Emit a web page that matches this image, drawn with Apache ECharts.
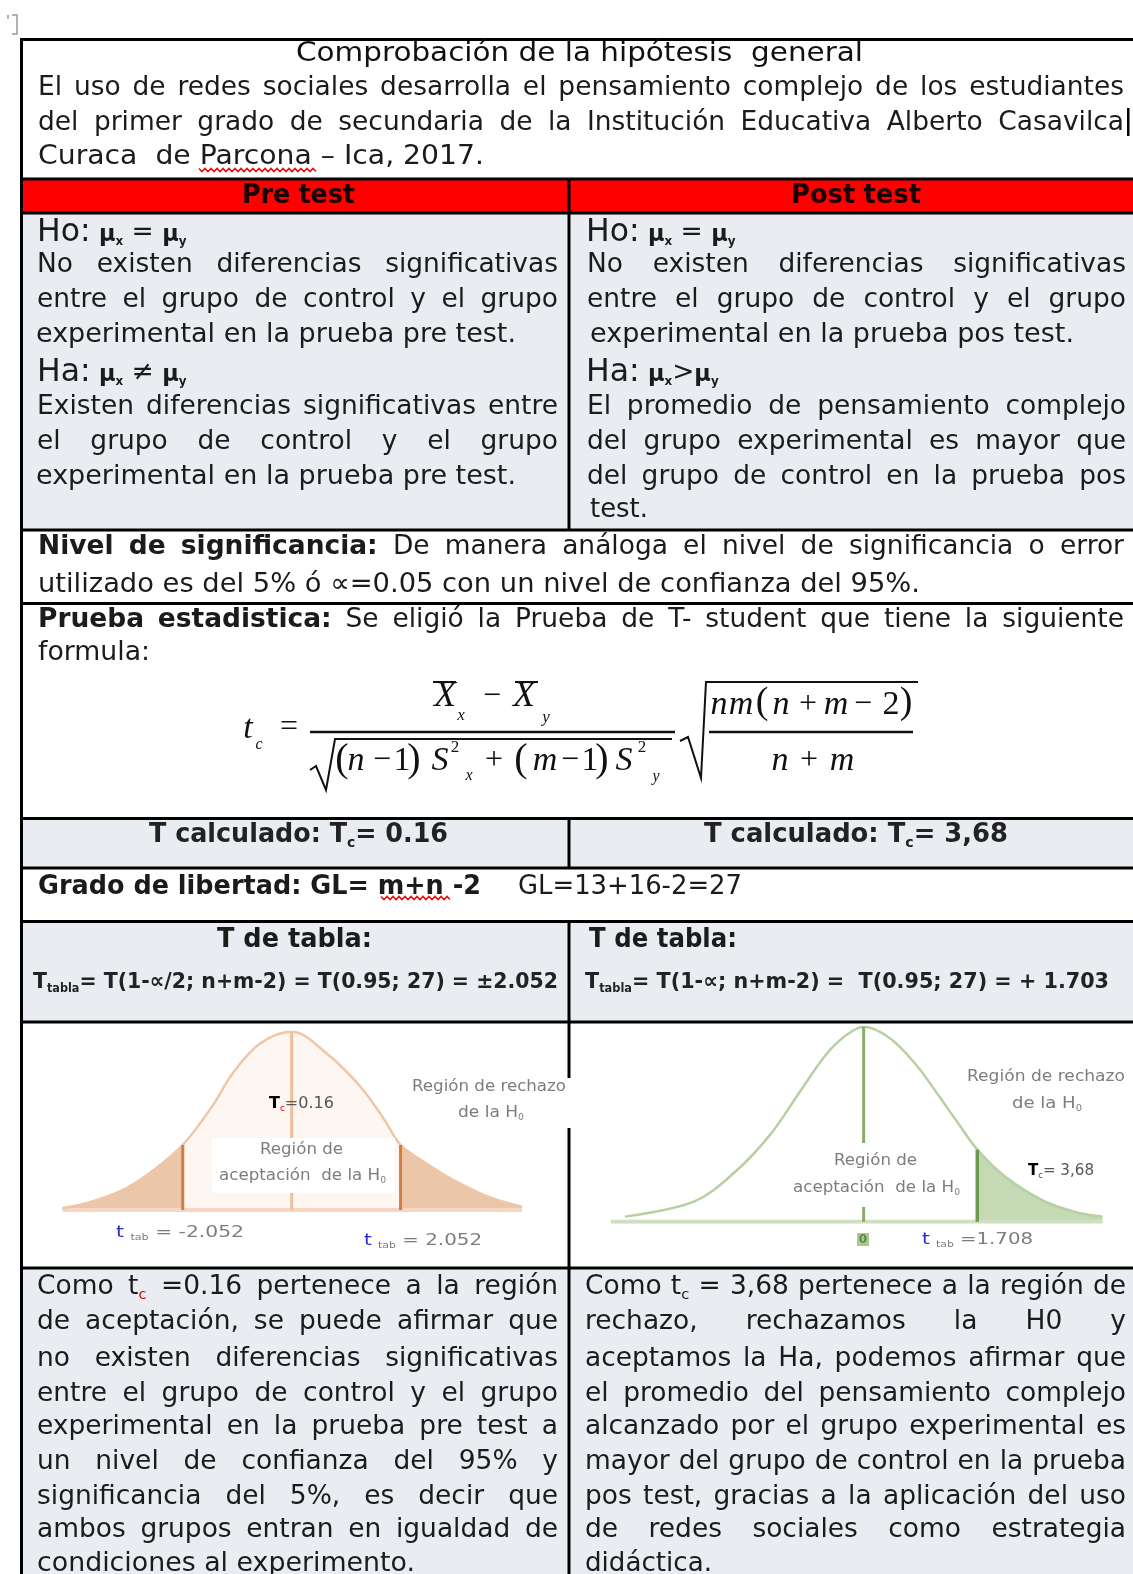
<!DOCTYPE html>
<html><head><meta charset="utf-8">
<script src="https://cdn.jsdelivr.net/npm/echarts@6/dist/echarts.min.js"></script>
<style>html,body{margin:0;padding:0;background:#fff}#c{width:1133px;height:1574px}</style>
</head><body><div id="c"></div>
<script>
// ================= DATA =================
// Pre test distribution (t units, relative height)
const PRE_X = [-4.32,-3.77,-3.12,-2.60,-2.052,-1.50,-1.11,-0.59,0,0.65,1.30,1.75,2.052,2.53,3.05,3.70,4.34];
const PRE_Y = [1.0,4.7,12.2,22.4,36.5,58.0,76.7,93.5,100,88,69,50.5,36.5,26.2,16.8,7.5,1.9];
const PRE_CRIT = 2.052;
// Post test distribution
const POST_X = [-3.59,-2.55,-1.93,-1.41,-0.99,-0.57,-0.26,0,0.40,0.80,1.10,1.41,1.708,2.13,2.66,3.18,3.59];
const POST_Y = [2.6,10.3,25.6,44.4,65,85.5,95.7,100,94,80,66,51,37,23,11.5,5,2.6];
const POST_CRIT = 1.708;

// text content
const TITLE = 'Comprobación de la hipótesis  general';
const HYP_GENERAL = [
  'El uso de redes sociales desarrolla el pensamiento complejo de los estudiantes',
  'del primer grado de secundaria de la Institución Educativa Alberto Casavilca',
  'Curaca  de Parcona – Ica, 2017.'
];
const HEADERS = ['{b|Pre} {b|test}', '{b|Post} {b|test}'];
const HYP_PRE = [
  '{H|Ho:} {m|µ}{ms|x} = {m|µ}{ms|y}',
  'No existen diferencias significativas',
  'entre el grupo de control y el grupo',
  'experimental en la prueba pre test.',
  '{H|Ha:} {m|µ}{ms|x} ≠ {m|µ}{ms|y}',
  'Existen diferencias significativas entre',
  'el grupo de control y el grupo',
  'experimental en la prueba pre test.'
];
const HYP_POST = [
  '{H|Ho:} {m|µ}{ms|x} = {m|µ}{ms|y}',
  'No existen diferencias significativas',
  'entre el grupo de control y el grupo',
  'experimental en la prueba pos test.',
  '{H|Ha:} {m|µ}{ms|x}>{m|µ}{ms|y}',
  'El promedio de pensamiento complejo',
  'del grupo experimental es mayor que',
  'del grupo de control en la prueba pos',
  'test.'
];
const NIVEL = [
  '{b|Nivel} {b|de} {b|significancia:} De manera análoga el nivel de significancia o error',
  'utilizado es del 5% ó ∝=0.05 con un nivel de confianza del 95%.'
];
const PRUEBA = [
  '{b|Prueba} {b|estadistica:} Se eligió la Prueba de T- student que tiene la siguiente',
  'formula:'
];
const TCALC = ['T calculado: T{bs|c}= 0.16', 'T calculado: T{bs|c}= 3,68'];
const GRADO = ['Grado de libertad: GL= m+n -2', 'GL=13+16-2=27'];
const TTABLA_HEAD = 'T de tabla:';
const TTABLA = ['T{s|tabla}= T(1-∝/2; n+m-2) = T(0.95; 27) = ±2.052', 'T{s|tabla}= T(1-∝; n+m-2) =  T(0.95; 27) = + 1.703'];
const CONCL_PRE = [
  'Como t{rs|c} =0.16 pertenece a la región',
  'de aceptación, se puede afirmar  que',
  'no existen diferencias significativas',
  'entre el grupo de control y el grupo',
  'experimental en la prueba pre test a',
  'un nivel de confianza del 95% y',
  'significancia del 5%, es decir que',
  'ambos grupos entran en igualdad de',
  'condiciones al experimento.'
];
const CONCL_POST = [
  'Como t{s|c} = 3,68 pertenece a la región de',
  'rechazo, rechazamos la H0 y',
  'aceptamos la Ha, podemos afirmar que',
  'el promedio del pensamiento complejo',
  'alcanzado por el grupo experimental es',
  'mayor del grupo de control en la prueba',
  'pos test, gracias a la aplicación del uso',
  'de redes sociales como estrategia',
  'didáctica.'
];

// ================= HELPERS =================
const FONT = '"DejaVu Sans"';
const SX = 0.98;
const INK = '#1b1b1b';
const SEG = {
  n:{k:1}, b:{k:1,w:'bold'}, s:{k:0.55,dy:0.3}, bs:{k:0.55,w:'bold',dy:0.3},
  H:{k:1.19,dy:-0.02}, m:{k:0.85,w:'bold',dy:0.08}, ms:{k:0.45,w:'bold',dy:0.32},
  k:{k:1,w:'bold',c:'#000'}, rs:{k:0.55,dy:0.3,c:'#e00000'}, bl:{k:1,c:'#2a2ad0'}
};
const mctx = document.createElement('canvas').getContext('2d');
function parseWord(w){
  const out=[]; const re=/\{(\w+)\|([^}]*)\}|([^{]+)/g; let m;
  while((m=re.exec(w))!==null){ if(m[3]!==undefined) out.push({st:'n',t:m[3]}); else out.push({st:m[1],t:m[2]}); }
  return out;
}
function fontOf(seg,size,weight){ const s=SEG[seg.st]||SEG.n; return {fs:size*s.k, fw:s.w||weight, dy:(s.dy||0)*size, c:s.c}; }
function segW(seg,size,weight){ const f=fontOf(seg,size,weight); mctx.font=`${f.fw} ${f.fs}px ${FONT}`; return mctx.measureText(seg.t).width; }
function wordW(w,size,weight){ return parseWord(w).reduce((a,s)=>a+segW(s,size,weight),0); }
function putWord(els,w,x,y,size,weight,color,sx){
  let cx=x;
  parseWord(w).forEach(seg=>{
    const f=fontOf(seg,size,weight);
    els.push({type:'text',x:cx,y:y+f.dy,scaleX:sx,z:100,silent:true,
      style:{text:seg.t,fontFamily:FONT,fontSize:f.fs,fontWeight:f.fw,fill:f.c||color,align:'left',verticalAlign:'middle'}});
    cx+=segW(seg,size,weight)*sx;
  });
}
function putLine(els,o){
  const size=o.size||27, weight=o.weight||'normal', color=o.color||INK;
  mctx.font=`${weight} ${size}px ${FONT}`; const sp=mctx.measureText(' ').width;
  if(o.mode==='justify'){
    const words=o.t.split(' ').filter(Boolean);
    const ws=words.map(w=>wordW(w,size,weight)); const sum=ws.reduce((a,b)=>a+b,0);
    const W=o.x2-o.x1; let sx=SX;
    if((sum+sp*(words.length-1))*sx>W) sx=W/(sum+sp*(words.length-1));
    const gap=(W-sum*sx)/(words.length-1);
    let x=o.x1; words.forEach((w,i)=>{putWord(els,w,x,o.y,size,weight,color,sx); x+=ws[i]*sx+gap;});
  } else {
    const words=o.t.split(' ');
    const ws=words.map(w=>wordW(w,size,weight)); const nat=ws.reduce((a,b)=>a+b,0)+sp*(words.length-1);
    let sx=o.sx||SX, x=o.x1;
    if(o.mode==='fit') sx=(o.x2-o.x1)/nat;
    words.forEach((w,i)=>{putWord(els,w,x,o.y,size,weight,color,sx); x+=(ws[i]+sp)*sx;});
  }
}
function boldAll(s){ return s.split(' ').map(w=> w===''? '' : (w.includes('{')? w.replace(/^([^{]+)/,'{b|$1}').replace(/\}([^{}]+)$/,'}{b|$1}') : '{b|'+w+'}')).join(' '); }
function rect(els,x,y,w,h,fill,z){ els.push({type:'rect',z:z||1,silent:true,shape:{x,y,width:w,height:h},style:{fill}}); }
function hline(els,x1,x2,y,w,c){ els.push({type:'line',z:90,silent:true,shape:{x1,y1:y,x2,y2:y},style:{stroke:c||'#000',lineWidth:w||3}}); }
function vline(els,x,y1,y2,w,c){ els.push({type:'line',z:90,silent:true,shape:{x1:x,y1,x2:x,y2},style:{stroke:c||'#000',lineWidth:w||3}}); }
function poly(els,pts,c,w,z){ els.push({type:'polyline',z:z||95,silent:true,shape:{points:pts},style:{stroke:c,lineWidth:w,fill:null}}); }
function squiggle(els,x1,x2,y){ const p=[]; let up=true; for(let x=x1;x<=x2;x+=3){p.push([x,up?y-1.5:y+1.5]); up=!up;} poly(els,p,'#e81010',1.6,96); }
function glyph(els,t,cx,cy,size,italic){
  els.push({type:'text',x:cx,y:cy,z:100,silent:true,style:{text:t,fontFamily:'"Liberation Serif"',fontSize:size,fontStyle:italic?'italic':'normal',fill:'#111',align:'center',verticalAlign:'middle'}});
}

// ================= GRAPHIC LAYOUT =================
const G = [];
const GRAY = '#e9ecf1';
const L1=37, L2=558, R1=587, R2=1126;
// backgrounds
rect(G,22,180,1111,33,'#ff0000');
rect(G,22,213,1111,317,GRAY);
rect(G,22,818,1111,50,GRAY);
rect(G,22,921,1111,101,GRAY);
rect(G,22,1268,1111,306,GRAY);

// title row
putLine(G,{t:TITLE,mode:'fit',x1:296,x2:863,y:54,color:'#111'});
putLine(G,{t:HYP_GENERAL[0],mode:'justify',x1:38,x2:1124,y:88});
putLine(G,{t:HYP_GENERAL[1],mode:'justify',x1:38,x2:1124,y:123});
putLine(G,{t:HYP_GENERAL[2],mode:'fit',x1:38,x2:484,y:157});
squiggle(G,199,318,170);
rect(G,1127,108,2.5,28,'#000',100);

// headers
putLine(G,{t:HEADERS[0],mode:'fit',x1:242,x2:355,y:196,color:'#1a0000'});
putLine(G,{t:HEADERS[1],mode:'fit',x1:791,x2:921,y:196,color:'#1a0000'});

// hypotheses
const HY_L = [233,265,300,335,373,407,442,477];
const HY_R = [233,265,300,335,373,407,442,477,510];
const J_PRE = ['left','justify','justify','fitA','left','justify','justify','fitA'];
HYP_PRE.forEach((t,i)=>{
  const m=J_PRE[i];
  if(m==='fitA') putLine(G,{t,mode:'fit',x1:36,x2:516,y:HY_L[i]});
  else putLine(G,{t,mode:m,x1:L1,x2:L2,y:HY_L[i]});
});
const J_POST = ['left','justify','justify','fitB','left','justify','justify','justify','fitC'];
HYP_POST.forEach((t,i)=>{
  const m=J_POST[i];
  if(m==='fitB') putLine(G,{t,mode:'fit',x1:590,x2:1074,y:HY_R[i]});
  else if(m==='fitC') putLine(G,{t,mode:'fit',x1:590,x2:648,y:HY_R[i]});
  else putLine(G,{t,mode:m,x1:m==='left'?586:R1,x2:R2,y:HY_R[i]});
});

// nivel & prueba
putLine(G,{t:NIVEL[0],mode:'justify',x1:38,x2:1124,y:547});
putLine(G,{t:NIVEL[1],mode:'fit',x1:38,x2:920,y:585});
putLine(G,{t:PRUEBA[0],mode:'justify',x1:38,x2:1124,y:620});
putLine(G,{t:PRUEBA[1],mode:'fit',x1:38,x2:150,y:653});

// formula
glyph(G,'t',248,729,34,true); glyph(G,'c',259,745,16,true);
glyph(G,'=',289,728,32,false);
glyph(G,'X',445,697,36,true); hline(G,433,456,682,2,'#111'); glyph(G,'x',461,716,17,true);
glyph(G,'−',492,697,32,false);
glyph(G,'X',524,697,36,true); hline(G,515,538,682,2,'#111'); glyph(G,'y',546,718,17,true);
hline(G,310,675,732,2.5,'#111');
poly(G,[[310,770],[316,766],[326,790],[335,739],[672,739]],'#111',2,95);
[['(',342,760,40,false],['n',356,761,34,true],['−',382,761,32,false],['1',402,761,34,false],[')',414,760,40,false],
 ['S',440,761,34,true],['2',455,748,17,false],['x',469,776,16,true],['+',494,761,32,false],
 ['(',521,760,40,false],['m',545,761,34,true],['−',570,761,32,false],['1',590,761,34,false],[')',602,760,40,false],
 ['S',624,761,34,true],['2',642,748,17,false],['y',656,777,16,true]].forEach(g=>glyph(G,...g));
poly(G,[[680,741],[688,737],[701,778],[706,682],[918,682]],'#111',2,95);
hline(G,709,913,732,2.5,'#111');
[['n',719,705,34,true],['m',741,705,34,true],['(',762,703,38,false],['n',781,705,34,true],['+',808,705,32,false],
 ['m',836,705,34,true],['−',863,705,32,false],['2',891,705,34,false],['(',0,0,0,false]].slice(0,8).forEach(g=>glyph(G,...g));
[[')',906,703,38,false],['n',780,761,34,true],['+',809,761,32,false],['m',842,761,34,true]].forEach(g=>glyph(G,...g));

// T calculado
putLine(G,{t:boldAll(TCALC[0]),mode:'fit',x1:149,x2:448,y:835,weight:'bold',color:'#222'});
putLine(G,{t:boldAll(TCALC[1]),mode:'fit',x1:704,x2:1008,y:835,weight:'bold',color:'#222'});
// grado
putLine(G,{t:GRADO[0],mode:'fit',x1:38,x2:481,y:887,weight:'bold'});
putLine(G,{t:GRADO[1],mode:'fit',x1:518,x2:742,y:887});
squiggle(G,381,450,898);
// T tabla
putLine(G,{t:TTABLA_HEAD,mode:'fit',x1:217,x2:372,y:940,weight:'bold'});
putLine(G,{t:TTABLA_HEAD,mode:'fit',x1:589,x2:737,y:940,weight:'bold'});
putLine(G,{t:TTABLA[0],mode:'fit',x1:33,x2:558,y:982,size:22,weight:'bold',color:'#222'});
putLine(G,{t:TTABLA[1],mode:'fit',x1:585,x2:1109,y:982,size:22,weight:'bold',color:'#222'});

// chart annotation boxes & labels
rect(G,212,1138,183,55,'#ffffff',50);
rect(G,791,1143,169,64,'#ffffff',50);
const LG = '#7d7d7d';
putLine(G,{t:'Región de rechazo',mode:'fit',x1:412,x2:566,y:1087,size:15,color:LG});
putLine(G,{t:'de la H{s|0}',mode:'fit',x1:458,x2:524,y:1113,size:15,color:LG});
putLine(G,{t:'Región de',mode:'fit',x1:260,x2:343,y:1150,size:15,color:LG});
putLine(G,{t:'aceptación  de la H{s|0}',mode:'fit',x1:219,x2:386,y:1176,size:15,color:LG});
putLine(G,{t:'{k|T}{rs|c}=0.16',mode:'fit',x1:269,x2:334,y:1104,size:15,color:'#555'});
putLine(G,{t:'{bl|t} {s|tab} = -2.052',mode:'fit',x1:116,x2:244,y:1233,size:16,color:LG});
putLine(G,{t:'{bl|t} {s|tab} = 2.052',mode:'fit',x1:364,x2:482,y:1241,size:16,color:LG});
putLine(G,{t:'Región de rechazo',mode:'fit',x1:967,x2:1125,y:1077,size:15,color:LG});
putLine(G,{t:'de la H{s|0}',mode:'fit',x1:1012,x2:1082,y:1104,size:15,color:LG});
putLine(G,{t:'Región de',mode:'fit',x1:834,x2:917,y:1161,size:15,color:LG});
putLine(G,{t:'aceptación  de la H{s|0}',mode:'fit',x1:793,x2:960,y:1188,size:15,color:LG});
putLine(G,{t:'{k|T}{rs|c}= 3,68',mode:'fit',x1:1028,x2:1094,y:1171,size:15,color:'#555'});
putLine(G,{t:'{bl|t} {s|tab} =1.708',mode:'fit',x1:922,x2:1033,y:1240,size:16,color:LG});
rect(G,857,1233,12,13,'#a9c994',99);
G.push({type:'text',x:863,y:1240,z:100,silent:true,style:{text:'0',fontFamily:FONT,fontSize:12,fontWeight:'bold',fill:'#5e8c45',align:'center',verticalAlign:'middle'}});

// conclusions
const CY = [1287,1322,1359,1394,1427,1462,1497,1530,1564];
CONCL_PRE.forEach((t,i)=>{
  if(i===8) putLine(G,{t,mode:'fit',x1:37,x2:415,y:CY[i]});
  else putLine(G,{t,mode:'justify',x1:L1,x2:L2,y:CY[i]});
});
CONCL_POST.forEach((t,i)=>{
  if(i===8) putLine(G,{t,mode:'fit',x1:585,x2:712,y:CY[i]});
  else putLine(G,{t,mode:'justify',x1:585,x2:R2,y:CY[i]});
});

// table borders
[39.5,179,213,530,603.5,818.5,868,921.5,1022,1268].forEach(y=>hline(G,20,1133,y,3));
vline(G,21.5,38,1574,3);
[[179,530],[818,868],[921.5,1078],[1128,1268],[1268,1574]].forEach(s=>vline(G,569,s[0],s[1],3));
// top-left mark
poly(G,[[12,15],[17,15],[17,34],[12,34]],'#999',1.5,95);
poly(G,[[8,15],[8,19]],'#999',1.5,95);

// ================= CHART =================
const pre = PRE_X.map((x,i)=>[x,PRE_Y[i]]);
const post = POST_X.map((x,i)=>[x,POST_Y[i]]);
const preCritY = PRE_Y[PRE_X.indexOf(-PRE_CRIT)];
const preCritY2 = PRE_Y[PRE_X.indexOf(PRE_CRIT)];
const postCritY = POST_Y[POST_X.indexOf(POST_CRIT)];
function ln(gi,data,color,width,extra){
  return Object.assign({type:'line',xAxisIndex:gi,yAxisIndex:gi,data,symbol:'none',silent:true,z:5,
    lineStyle:{color,width,opacity:width>0?1:0}},extra||{});
}
const SM = 0.35;
const series = [
  ln(0,pre.filter(p=>p[0]>=-PRE_CRIT&&p[0]<=PRE_CRIT),'#fff',0,{smooth:SM,areaStyle:{color:'#fdf6f1',opacity:1}}),
  ln(0,pre.filter(p=>p[0]<=-PRE_CRIT),'#fff',0,{smooth:SM,areaStyle:{color:'#ecc6a9',opacity:1}}),
  ln(0,pre.filter(p=>p[0]>=PRE_CRIT),'#fff',0,{smooth:SM,areaStyle:{color:'#ecc6a9',opacity:1}}),
  ln(0,[[PRE_X[0],0],[PRE_X[PRE_X.length-1],0]],'#f4d6c2',4),
  ln(0,pre,'#f0c6a6',2.5,{smooth:SM}),
  ln(0,[[0,0],[0,100]],'#eebf9c',3),
  ln(0,[[-PRE_CRIT,0],[-PRE_CRIT,preCritY]],'#cf7d42',3),
  ln(0,[[PRE_CRIT,0],[PRE_CRIT,preCritY2]],'#cf7d42',3),
  ln(1,post.filter(p=>p[0]>=POST_CRIT),'#fff',0,{smooth:SM,areaStyle:{color:'#c5d9b4',opacity:1}}),
  ln(1,[[-3.8,0],[POST_X[POST_X.length-1],0]],'#cfe0c2',4),
  ln(1,post,'#b6d0a2',2.5,{smooth:SM}),
  ln(1,[[0,0],[0,100]],'#86ad6b',3),
  ln(1,[[POST_CRIT,0],[POST_CRIT,postCritY]],'#6b9a50',3.5)
];

const chart = echarts.init(document.getElementById('c'), null, {renderer:'canvas'});
chart.setOption({
  animation:false,
  backgroundColor:'#ffffff',
  grid:[
    {left:62.4, top:1031.7, width:459.6, height:178.3, show:false},
    {left:610.8, top:1026.7, width:491.7, height:195, show:false}
  ],
  xAxis:[
    {gridIndex:0,type:'value',min:-4.32,max:4.34,show:false},
    {gridIndex:1,type:'value',min:-3.8,max:3.59,show:false}
  ],
  yAxis:[
    {gridIndex:0,type:'value',min:0,max:100,show:false},
    {gridIndex:1,type:'value',min:0,max:100,show:false}
  ],
  series,
  graphic:{elements:G}
});
</script></body></html>
